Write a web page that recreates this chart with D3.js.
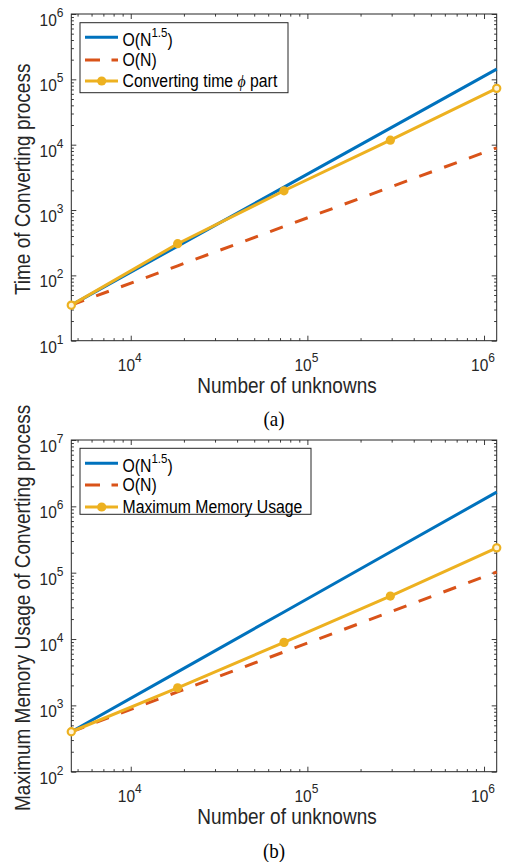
<!DOCTYPE html>
<html>
<head>
<meta charset="utf-8">
<script src="https://cdn.jsdelivr.net/npm/d3@7"></script>
<style>
  body { margin: 0; background: #fff; }
  svg { display: block; }
</style>
</head>
<body>
<svg id="fig" width="505" height="862"></svg>
<script>
// Problem sizes (number of unknowns), shared by both panels
const unknowns = [4608, 18432, 73728, 294912, 1179648];

// Panel (a): time of the converting process
const convTime = [35, 305, 1970, 11700, 72800];
const convRefN15 = [35, 280, 2240, 17920, 143360];
const convRefN = [35, 140, 560, 2240, 8960];

// Panel (b): maximum memory usage of the converting process
const memUsage = [400, 1835, 8900, 44400, 236700];
const memRefN15 = [400, 3200, 25600, 204800, 1638400];
const memRefN = [400, 1600, 6400, 25600, 102400];

// Axis limits
const xLimits = [4608, 1179648];
const yLimitsA = [1e1, 1e6];
const yLimitsB = [1e2, 1e7];

const C = { blue: "#0072BD", orange: "#D95319", yellow: "#EDB120", axis: "#262626" };
const SANS = "'Liberation Sans', Arial, Helvetica, sans-serif";
const SERIF = "'Liberation Serif', 'Times New Roman', serif";
const STRETCH = 1.12; // glyphs are drawn slightly taller than wide

const svg = d3.select("#fig");

const plotLeft = 71.3, plotRight = 496.7;

// text placed at (x, y) with a slight vertical stretch
function addText(parent, x, y, size, opts = {}) {
  const rot = opts.rotate ? " rotate(-90)" : "";
  return parent.append("text")
    .attr("transform", `translate(${x},${y})${rot} scale(1,${STRETCH})`)
    .attr("text-anchor", opts.anchor || "start")
    .attr("font-family", opts.family || SANS)
    .attr("font-size", size)
    .attr("fill", opts.fill || C.axis);
}

function drawPanel(cfg) {
  const x = d3.scaleLog().domain(xLimits).range([plotLeft, plotRight]);
  const y = d3.scaleLog().domain(cfg.yLimits).range([cfg.bottom, cfg.top]);
  const g = svg.append("g");

  const isPow10 = v => Math.abs(Math.log10(v) - Math.round(Math.log10(v))) < 1e-9;
  const xt = x.ticks(), yt = y.ticks();
  const xMajor = xt.filter(isPow10), xMinor = xt.filter(v => !isPow10(v));
  const yMajor = yt.filter(isPow10), yMinor = yt.filter(v => !isPow10(v));

  // Inward tick marks on all four sides
  const tickSets = [
    [d3.axisBottom, cfg.bottom, xMajor, xMinor, "x"],
    [d3.axisTop, cfg.top, xMajor, xMinor, "x"],
    [d3.axisLeft, plotLeft, yMajor, yMinor, "y"],
    [d3.axisRight, plotRight, yMajor, yMinor, "y"]
  ];
  tickSets.forEach(([axisFn, pos, major, minor, dir]) => {
    [[major, 5], [minor, 2.6]].forEach(([vals, len]) => {
      const a = axisFn(dir === "x" ? x : y)
        .tickValues(vals).tickSize(-len).tickSizeOuter(0).tickFormat("");
      const ag = g.append("g")
        .attr("transform", dir === "x" ? `translate(0,${pos})` : `translate(${pos},0)`)
        .call(a);
      ag.select(".domain").remove();
      ag.selectAll("line").attr("stroke", C.axis).attr("stroke-width", 0.9);
    });
  });

  // Axes box
  g.append("rect")
    .attr("x", plotLeft).attr("y", cfg.top)
    .attr("width", plotRight - plotLeft).attr("height", cfg.bottom - cfg.top)
    .attr("fill", "none").attr("stroke", C.axis).attr("stroke-width", 1);

  // Tick labels 10^k
  const powLabel = t => v => {
    t.append("tspan").text("10");
    t.append("tspan").attr("dy", -8).attr("font-size", 12).text(Math.round(Math.log10(v)));
  };
  xMajor.forEach(v => powLabel(addText(g, x(v) - 1, cfg.bottom + 30, 15.5, { anchor: "middle" }))(v));
  yMajor.forEach(v => powLabel(addText(g, 63.5, y(v) + 12, 15.5, { anchor: "end" }))(v));

  // Axis titles
  addText(g, (plotLeft + plotRight) / 2 + 3, cfg.bottom + 52.5, 19, { anchor: "middle" })
    .text("Number of unknowns");
  addText(g, 30, (cfg.top + cfg.bottom) / 2 + 2, 19, { anchor: "middle", rotate: true })
    .text(cfg.ylabel);

  // Series
  const line = d3.line().x(d => x(d[0])).y(d => y(d[1]));
  const zip = vals => unknowns.map((n, i) => [n, vals[i]]);

  g.append("path").datum(zip(cfg.refN15)).attr("d", line)
    .attr("fill", "none").attr("stroke", C.blue).attr("stroke-width", 3);
  g.append("path").datum(zip(cfg.refN)).attr("d", line)
    .attr("fill", "none").attr("stroke", C.orange).attr("stroke-width", 3)
    .attr("stroke-dasharray", "13.5,13");
  g.append("path").datum(zip(cfg.measured)).attr("d", line)
    .attr("fill", "none").attr("stroke", C.yellow).attr("stroke-width", 3);
  const pts = zip(cfg.measured);
  const isEnd = i => i === 0 || i === pts.length - 1;
  g.selectAll("circle.pt").data(pts).enter().append("circle")
    .attr("class", "pt")
    .attr("cx", d => x(d[0])).attr("cy", d => y(d[1]))
    .attr("r", (d, i) => isEnd(i) ? 3.6 : 4.6)
    .attr("fill", (d, i) => isEnd(i) ? "#fdf4dc" : C.yellow)
    .attr("stroke", C.yellow)
    .attr("stroke-width", (d, i) => isEnd(i) ? 2.2 : 0);

  // Legend
  const L = cfg.legend;
  g.append("rect")
    .attr("x", 80).attr("y", L.top).attr("width", L.width).attr("height", L.height)
    .attr("fill", "#fff").attr("stroke", C.axis).attr("stroke-width", 1);
  const rows = [
    { color: C.blue, dash: null, marker: false },
    { color: C.orange, dash: "15,11.5", marker: false },
    { color: C.yellow, dash: null, marker: true }
  ];
  rows.forEach((r, i) => {
    const ly = L.rows[i];
    g.append("line")
      .attr("x1", 85).attr("x2", 118).attr("y1", ly).attr("y2", ly)
      .attr("stroke", r.color).attr("stroke-width", 3)
      .attr("stroke-dasharray", r.dash);
    if (r.marker) {
      g.append("circle").attr("cx", 101.7).attr("cy", ly).attr("r", 4.6).attr("fill", r.color);
    }
  });
  const lt = (i, dy) => addText(g, 122.5, L.rows[i] + dy, 15.8, { fill: "#000" });
  const t1 = lt(0, 8.5);
  t1.append("tspan").text("O(N");
  t1.append("tspan").attr("dy", -8).attr("font-size", 11.5).text("1.5");
  t1.append("tspan").attr("dy", 8).text(")");
  lt(1, 6).text("O(N)");
  cfg.legendLabel(lt(2, 6));

  // Caption
  addText(svg, 274, cfg.captionY, 19, { anchor: "middle", family: SERIF, fill: "#000" })
    .text(cfg.caption);
}

drawPanel({
  top: 14, bottom: 340.7, yLimits: yLimitsA,
  ylabel: "Time of Converting process",
  measured: convTime, refN15: convRefN15, refN: convRefN,
  legend: { top: 22.7, height: 70, width: 208, rows: [37.3, 60, 81] },
  legendLabel: t => {
    t.append("tspan").text("Converting time ");
    t.append("tspan").attr("font-family", SERIF).attr("font-style", "italic").text("\u03D5");
    t.append("tspan").text(" part");
  },
  caption: "(a)", captionY: 426
});

drawPanel({
  top: 440, bottom: 771.7, yLimits: yLimitsB,
  ylabel: "Maximum Memory Usage of Converting process",
  measured: memUsage, refN15: memRefN15, refN: memRefN,
  legend: { top: 448.3, height: 66, width: 231, rows: [463.3, 485, 507] },
  legendLabel: t => t.text("Maximum Memory Usage"),
  caption: "(b)", captionY: 858
});
</script>
</body>
</html>
